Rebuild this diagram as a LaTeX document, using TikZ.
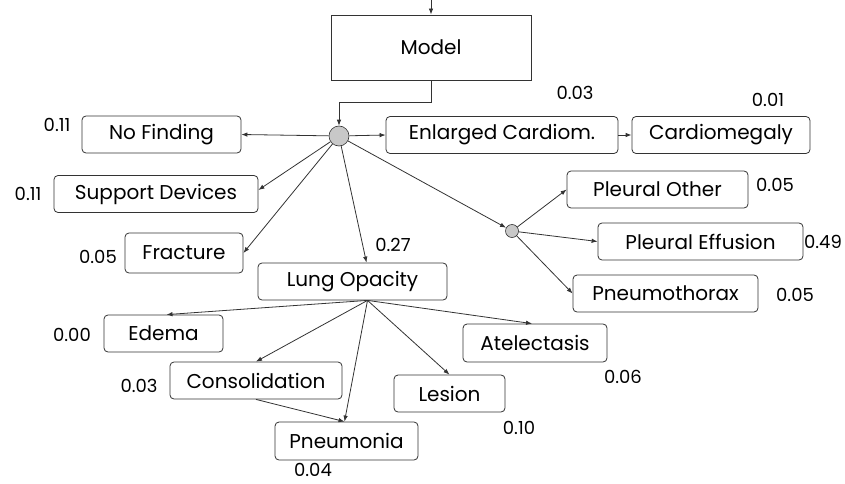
\documentclass[tikz,border=0pt]{standalone}
\usepackage{fontspec}
\setmainfont{Poppins}
\usepackage{xcolor}
\usetikzlibrary{arrows.meta,calc}
\definecolor{edgegray}{HTML}{333333}
\definecolor{nodegray}{HTML}{C8C8C8}
\tikzset{
  finding/.style={draw=edgegray, rounded corners=4pt, align=center, fill=white, inner sep=0pt, minimum height=37pt, line width=0.8pt, font=\fontsize{20}{22}\selectfont},
  modelbox/.style={draw=edgegray, align=center, fill=white, inner sep=0pt, minimum width=200pt, minimum height=65pt, line width=0.8pt, font=\fontsize{20}{22}\selectfont},
  junction/.style={circle, draw=edgegray, fill=nodegray, inner sep=0pt, line width=0.6pt},
  prob/.style={inner sep=0pt, font=\fontsize{18}{20}\selectfont},
  arrow/.style={-{Latex[length=6pt,width=4.5pt]}, draw=edgegray, line width=0.8pt}
}
\begin{document}
\begin{tikzpicture}[x=1pt, y=-1pt]
  \useasboundingbox (0,0) rectangle (845,484);
  \node[modelbox] (model) at (431,47.5) {Model};
  \coordinate (input) at (431,0);
  \node[junction, minimum size=20pt] (hub) at (339,136) {};
  \node[junction, minimum size=13pt] (pleural) at (512,231) {};

  \node[finding, minimum width=232pt] (enlarged) at (502,135) {Enlarged Cardiom.};
  \node[finding, minimum width=178pt] (cardio) at (721,135) {Cardiomegaly};
  \node[finding, minimum width=159pt] (nofind) at (161.5,134.5) {No Finding};
  \node[finding, minimum width=204pt] (support) at (156,194) {Support Devices};
  \node[finding, minimum width=118pt, minimum height=40pt] (fracture) at (184,253) {Fracture};
  \node[finding, minimum width=189pt] (lung) at (352.5,281.5) {Lung Opacity};
  \node[finding, minimum width=119pt] (edema) at (163.5,333.5) {Edema};
  \node[finding, minimum width=172pt] (consol) at (256,380.5) {Consolidation};
  \node[finding, minimum width=143pt, minimum height=38pt] (pneumonia) at (346.5,441) {Pneumonia};
  \node[finding, minimum width=111pt] (lesion) at (449.5,393.5) {Lesion};
  \node[finding, minimum width=144pt, minimum height=38pt] (atel) at (535,343) {Atelectasis};
  \node[finding, minimum width=181pt] (plother) at (657.5,189.5) {Pleural Other};
  \node[finding, minimum width=205pt] (pleff) at (700.5,241.5) {Pleural Effusion};
  \node[finding, minimum width=185pt] (pneumo) at (665.5,293.5) {Pneumothorax};

  % probabilities
  \node[prob] (p-enlarged) at (575,93) {0.03};
  \node[prob] (p-cardio) at (768,100) {0.01};
  \node[prob] (p-nofind) at (57,125) {0.11};
  \node[prob] (p-support) at (28,194) {0.11};
  \node[prob] (p-fracture) at (98,257) {0.05};
  \node[prob] (p-lung) at (393,245) {0.27};
  \node[prob] (p-edema) at (72,335) {0.00};
  \node[prob] (p-consol) at (139,386) {0.03};
  \node[prob] (p-pneumonia) at (313,470) {0.04};
  \node[prob] (p-lesion) at (519,428) {0.10};
  \node[prob] (p-atel) at (623,377) {0.06};
  \node[prob] (p-plother) at (775,185) {0.05};
  \node[prob] (p-pleff) at (823,242) {0.49};
  \node[prob] (p-pneumo) at (795,295) {0.05};

  \draw[arrow] (input) -- (model.north);
  \draw[arrow] (model.south) -- ++(0,22) -| (hub.north);
  \draw[arrow] (hub) -- (enlarged.west);
  \draw[arrow] (enlarged.east) -- (cardio.west);
  \draw[arrow] (hub) -- (nofind.east);
  \draw[arrow] (hub) -- ([yshift=4pt]support.east);
  \draw[arrow] (hub) -- (fracture.east);
  \draw[arrow] (hub) -- ([xshift=14pt]lung.north);
  \draw[arrow] (hub) -- (pleural);
  \draw[arrow] (pleural) -- (plother.west);
  \draw[arrow] (pleural) -- (pleff.west);
  \draw[arrow] (pleural) -- (pneumo.west);

  \coordinate (lung-out) at ([xshift=15pt]lung.south);
  \draw[arrow] (lung-out) -- ([xshift=3pt]edema.north);
  \draw[arrow] (lung-out) -- (consol.north);
  \draw[arrow] (lung-out) -- ([xshift=-2pt]pneumonia.north);
  \draw[arrow] (lung-out) -- (lesion.north);
  \draw[arrow] (lung-out) -- ([xshift=-3pt]atel.north);
  \draw[arrow] (consol.south) -- ([xshift=-2pt]pneumonia.north);
\end{tikzpicture}
\end{document}
